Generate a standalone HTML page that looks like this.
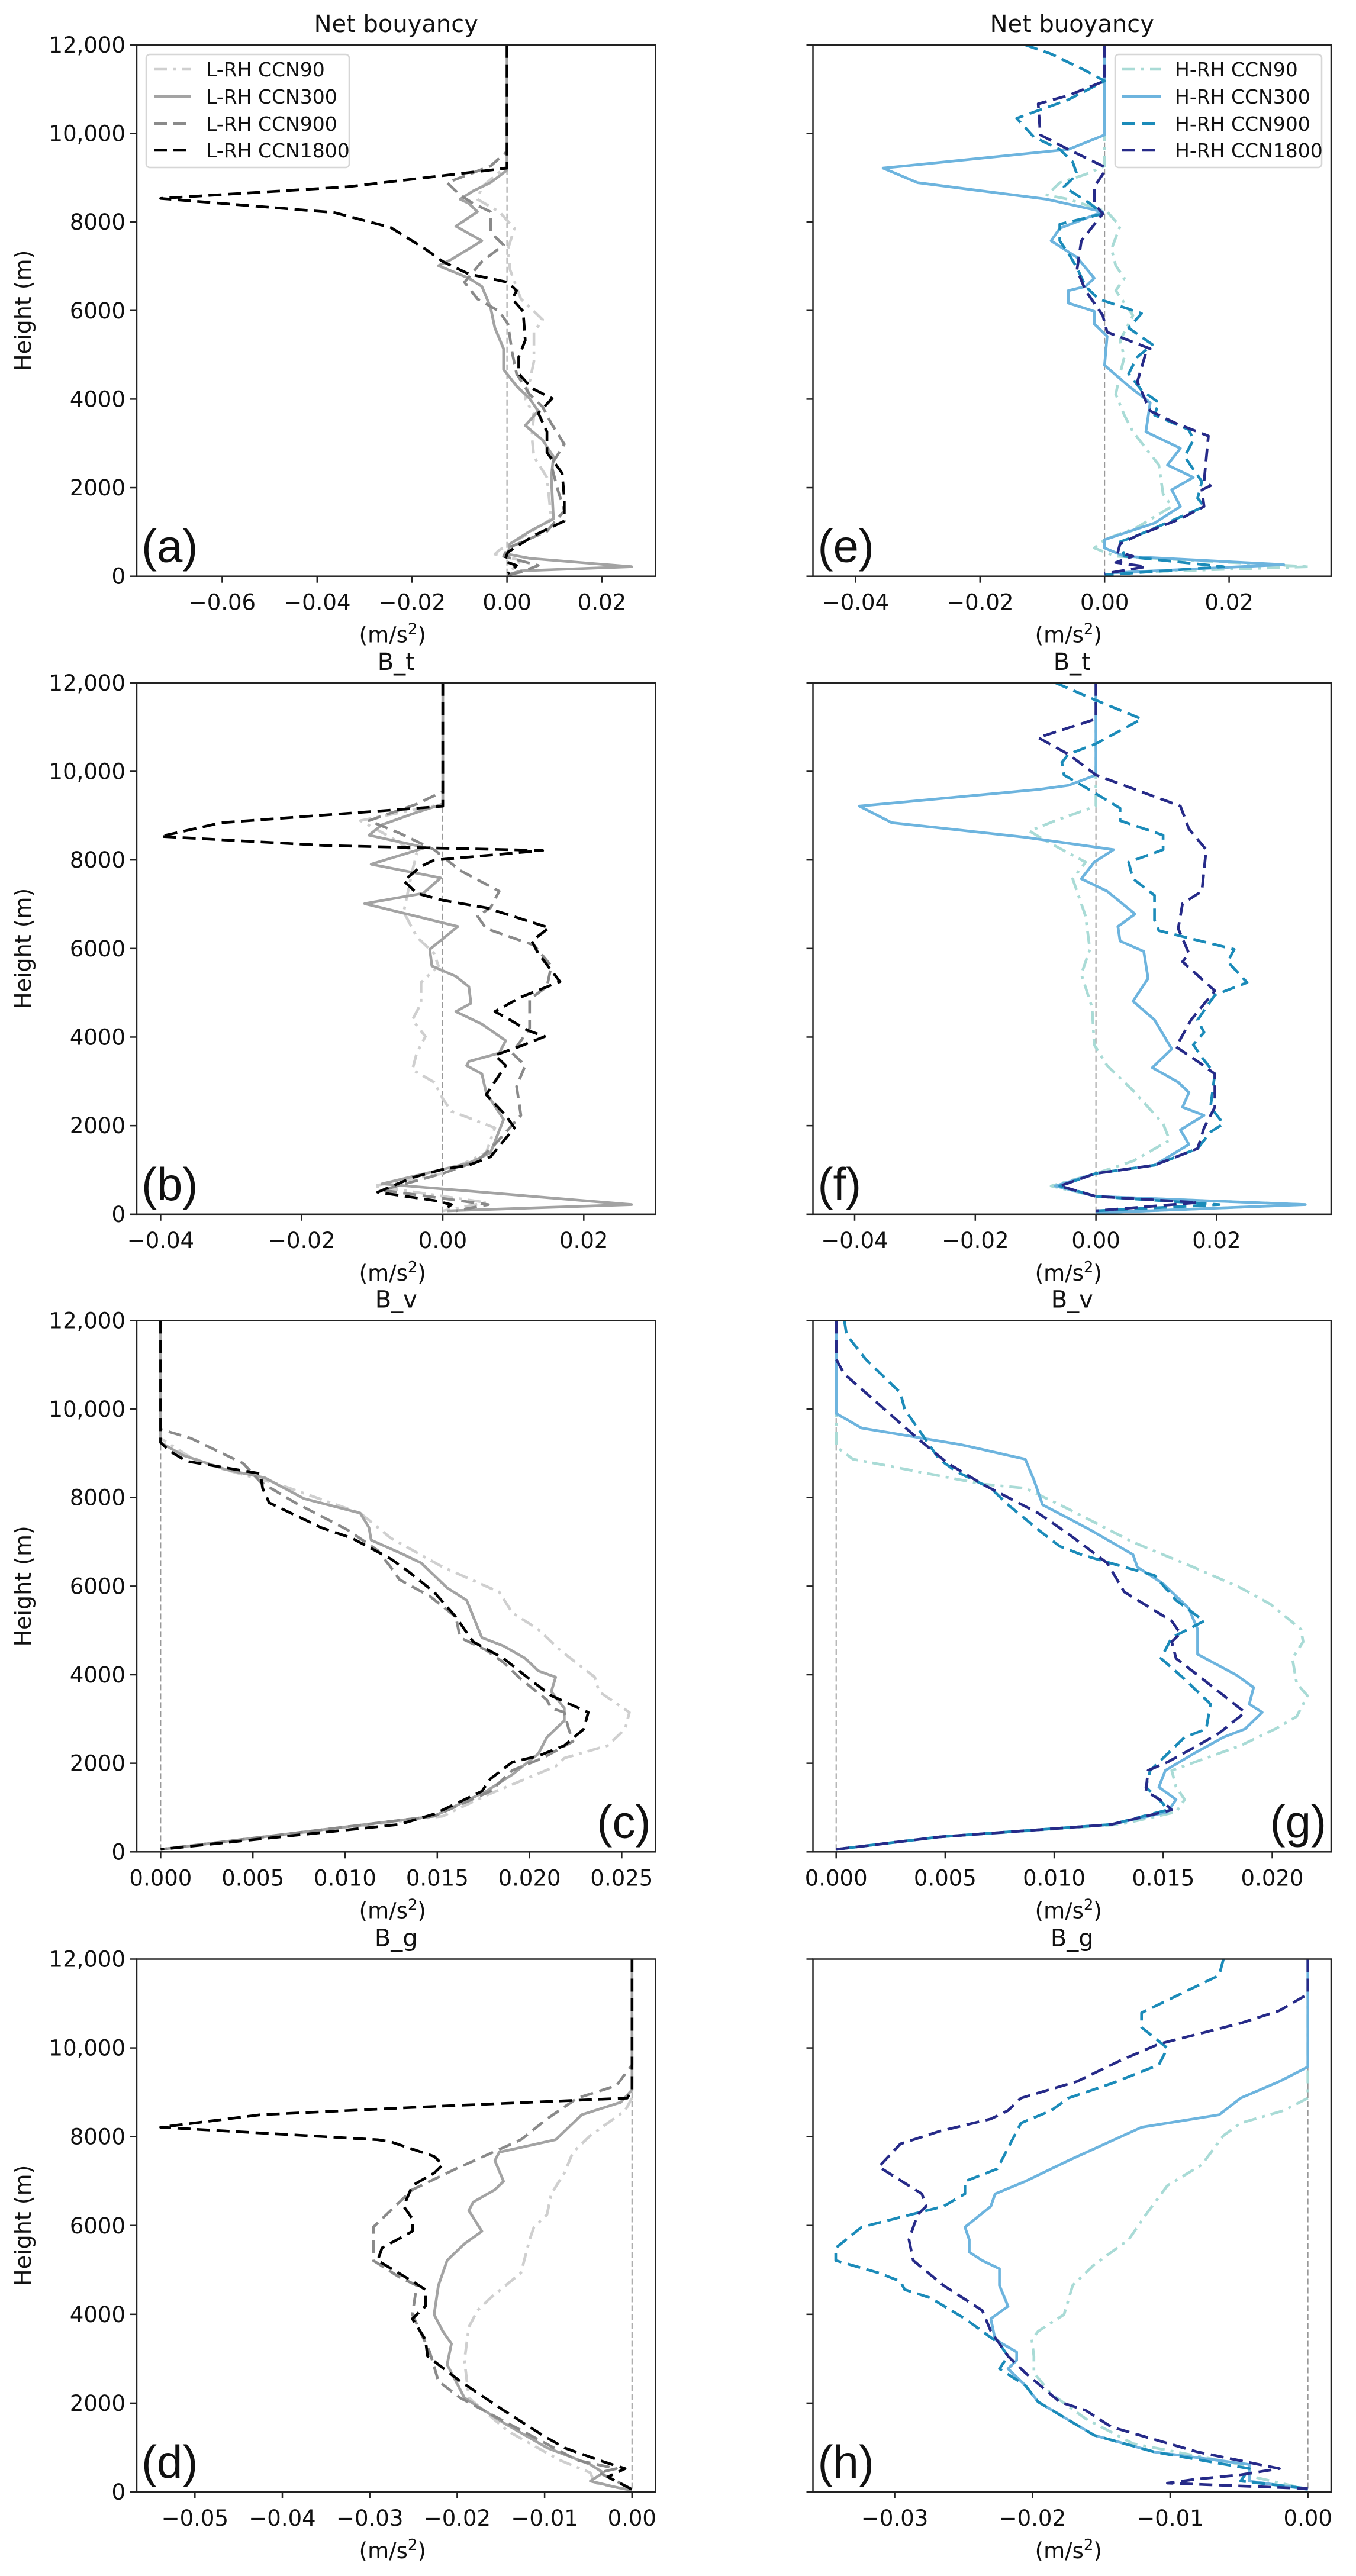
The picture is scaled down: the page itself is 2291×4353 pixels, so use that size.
<!DOCTYPE html>
<html><head><meta charset="utf-8">
<style>
html,body{margin:0;padding:0;background:#fff;}
svg{display:block;font-family:"DejaVu Sans","Liberation Sans",sans-serif;}
</style></head>
<body>
<svg id="s" xmlns="http://www.w3.org/2000/svg" width="2291" height="4353" viewBox="0 0 2291 4353">
<rect width="2291" height="4353" fill="#fff"/>
</svg>
<script>
const NS="http://www.w3.org/2000/svg";
const svg=document.getElementById('s');
function el(t,a,txt){const e=document.createElementNS(NS,t);for(const k in a)e.setAttribute(k,a[k]);if(txt!==undefined)e.textContent=txt;svg.appendChild(e);return e;}
const L={l:231,r:1107.5}, R={l:1373.5,r:2249};
const rows=[[75.8,973.7],[1153.8,2051.8],[2231.4,3129.3],[3310.5,4211]];
const LC=['#cfcfcf','#a3a3a3','#8a8a8a','#000000'];
const HC=['#a9dbd6','#6db4de','#1b8bb9','#262a88'];
const STY=['22,10,5,10',null,'22,11','22,11'];
function zl(oy,sy){return {ox:0,oy:oy,sx:1.3635,sy:sy};}
function zr(oy,sy){return {ox:1150,oy:oy,sx:1.374,sy:sy};}
const panels=[
{col:L,row:0,tf:zl(0,1.4255),title:'Net bouyancy',lab:'(a)',labPos:'l',zero:856.6,per:160.4,ticks:[-0.06,-0.04,-0.02,0,0.02],step:0.02,dec:2,pal:LC,
 s:[
 [[1168,108],[1168,400],[1110,450],[1100,480],[1150,510],[1185,550],[1170,600],[1175,650],[1200,720],[1250,770],[1230,800],[1230,870],[1220,920],[1210,960],[1230,1000],[1225,1050],[1230,1100],[1260,1150],[1270,1250],[1210,1290],[1150,1325],[1140,1335],[1200,1350],[1168,1385]],
 [[1168,108],[1168,410],[1130,440],[1090,460],[1060,480],[1080,490],[1100,510],[1050,545],[1110,580],[1040,625],[1010,640],[1080,670],[1110,690],[1130,740],[1140,790],[1160,840],[1160,890],[1190,930],[1220,960],[1240,990],[1210,1025],[1250,1060],[1275,1100],[1270,1150],[1275,1250],[1220,1280],[1175,1310],[1170,1335],[1220,1345],[1455,1365],[1200,1375],[1168,1385]],
 [[1168,108],[1168,365],[1130,400],[1030,440],[1060,470],[1090,490],[1130,510],[1130,560],[1160,590],[1110,630],[1070,680],[1100,720],[1150,750],[1170,780],[1180,850],[1190,900],[1220,950],[1250,980],[1270,1020],[1300,1070],[1270,1120],[1285,1180],[1300,1230],[1260,1280],[1170,1320],[1160,1340],[1240,1362],[1200,1378],[1168,1385]],
 [[1168,108],[1168,405],[800,450],[370,478],[770,512],[900,548],[980,600],[1020,630],[1080,660],[1170,680],[1190,700],[1180,720],[1205,750],[1210,820],[1195,860],[1195,900],[1225,935],[1272,960],[1240,995],[1260,1040],[1260,1090],[1295,1140],[1300,1200],[1300,1255],[1230,1290],[1170,1330],[1162,1352],[1190,1362],[1170,1382]]
 ]},
{col:L,row:1,tf:zl(1050,1.4255),title:'B_t',lab:'(b)',labPos:'l',zero:748,per:238.3,ticks:[-0.04,-0.02,0,0.02],step:0.02,dec:2,pal:LC,
 s:[
 [[1020,148],[1020,440],[830,480],[900,520],[960,560],[950,600],[930,700],[960,760],[1000,800],[1010,830],[970,870],[970,920],[950,960],[980,1000],[960,1040],[950,1080],[1000,1110],[1020,1150],[1040,1180],[1140,1220],[1120,1280],[1020,1330],[860,1360],[1120,1400],[1020,1420]],
 [[1020,148],[1020,440],[960,460],[880,490],[850,515],[980,545],[855,585],[1015,618],[975,655],[840,680],[1055,735],[990,790],[995,830],[1050,855],[1080,880],[1085,920],[1050,940],[1110,970],[1165,1010],[1150,1040],[1080,1060],[1075,1070],[1110,1090],[1120,1135],[1160,1200],[1130,1280],[1080,1305],[1020,1320],[880,1355],[1455,1405],[1030,1420]],
 [[1020,148],[1020,410],[960,440],[850,480],[920,510],[1000,550],[1060,600],[1150,650],[1130,690],[1100,710],[1120,740],[1230,780],[1270,830],[1260,880],[1220,910],[1220,980],[1180,1040],[1210,1070],[1190,1120],[1200,1190],[1140,1260],[1100,1300],[1020,1330],[880,1370],[1125,1405],[1050,1420]],
 [[1020,148],[1020,445],[960,450],[510,485],[370,518],[750,540],[1250,552],[1000,575],[970,590],[930,625],[960,655],[1020,672],[1120,690],[1265,738],[1225,770],[1240,800],[1290,868],[1200,905],[1140,940],[1175,960],[1215,985],[1255,1000],[1195,1025],[1140,1045],[1165,1070],[1120,1140],[1165,1190],[1185,1220],[1130,1290],[1080,1310],[1020,1320],[950,1340],[870,1375],[1000,1395],[1040,1405],[1020,1420]]
 ]},
{col:L,row:2,tf:zl(2150,1.4255),title:'B_v',lab:'(c)',labPos:'r',zero:271.4,per:155.8,ticks:[0,0.005,0.01,0.015,0.02,0.025],step:0.005,dec:3,pal:LC,
 s:[
 [[370,116],[370,400],[430,440],[500,470],[640,510],[830,580],[900,640],[1020,710],[1150,770],[1180,820],[1240,860],[1290,910],[1370,975],[1380,1010],[1450,1060],[1440,1100],[1400,1140],[1300,1170],[1280,1190],[1120,1260],[1020,1310],[370,1390]],
 [[370,116],[370,410],[420,440],[520,475],[610,495],[700,545],[830,580],[850,615],[855,645],[930,680],[970,700],[1030,760],[1075,790],[1110,880],[1160,900],[1210,930],[1240,960],[1280,975],[1270,1010],[1300,1050],[1300,1080],[1260,1120],[1240,1160],[1180,1210],[1120,1250],[1000,1310],[370,1390]],
 [[370,116],[370,378],[440,400],[560,460],[600,505],[680,555],[800,620],[870,670],[900,710],[920,740],[990,780],[1050,830],[1060,880],[1120,910],[1160,940],[1200,980],[1260,1030],[1270,1050],[1300,1060],[1310,1100],[1320,1130],[1250,1170],[1180,1200],[1130,1250],[1000,1310],[370,1390]],
 [[370,116],[370,410],[390,430],[430,455],[600,485],[605,520],[620,555],[680,585],[740,615],[810,640],[900,690],[940,720],[1000,770],[1050,830],[1090,890],[1160,930],[1220,980],[1270,1020],[1355,1060],[1345,1100],[1300,1140],[1240,1165],[1180,1180],[1130,1220],[1110,1250],[1000,1305],[920,1330],[370,1390]]
 ]},
{col:L,row:3,tf:zl(3250,1.4216),title:'B_g',lab:'(d)',labPos:'l',zero:1067.8,per:147.7,ticks:[-0.05,-0.04,-0.03,-0.02,-0.01,0],step:0.01,dec:2,pal:LC,
 s:[
 [[1456,86],[1456,420],[1440,450],[1360,510],[1320,550],[1300,600],[1270,650],[1260,700],[1230,730],[1220,760],[1200,840],[1130,900],[1100,930],[1080,970],[1070,1050],[1080,1140],[1170,1220],[1290,1290],[1360,1320],[1370,1345],[1456,1362]],
 [[1456,86],[1456,400],[1430,430],[1340,460],[1280,520],[1150,550],[1140,570],[1160,620],[1140,640],[1090,670],[1080,690],[1110,740],[1070,770],[1030,810],[1010,870],[1000,940],[1020,980],[1040,1010],[1030,1060],[1070,1140],[1160,1200],[1260,1260],[1360,1300],[1390,1320],[1360,1340],[1420,1355],[1456,1362]],
 [[1456,86],[1456,340],[1420,390],[1330,420],[1260,470],[1200,520],[1050,590],[950,640],[900,690],[860,730],[860,810],[920,850],[960,870],[950,940],[990,1030],[1010,1100],[1060,1140],[1150,1190],[1240,1240],[1330,1290],[1420,1310],[1380,1320],[1420,1340],[1456,1360]],
 [[1456,86],[1456,400],[1445,420],[1000,440],[600,460],[370,490],[870,520],[900,525],[1000,560],[1020,580],[1000,600],[950,630],[930,680],[950,710],[950,740],[880,780],[870,810],[950,860],[980,880],[980,920],[950,950],[980,1000],[985,1040],[1060,1100],[1160,1170],[1250,1230],[1300,1260],[1380,1290],[1440,1310],[1400,1330],[1456,1360]]
 ]},
{col:R,row:0,tf:zr(0,1.4255),title:'Net buoyancy',lab:'(e)',labPos:'l',zero:1866.2,per:210.4,ticks:[-0.04,-0.02,0,0.02],step:0.02,dec:2,pal:HC,
 s:[
 [[984,108],[984,400],[940,420],[880,440],[850,470],[900,480],[990,510],[1020,545],[1000,600],[1010,640],[1030,670],[1010,700],[1050,760],[1020,820],[1030,860],[1020,900],[1010,950],[1030,1000],[1050,1040],[1080,1080],[1110,1120],[1120,1190],[1140,1220],[1060,1270],[984,1300],[960,1320],[1010,1340],[1460,1365],[1000,1380]],
 [[984,108],[984,325],[900,360],[470,405],[550,440],[850,480],[980,510],[880,550],[860,580],[920,620],[960,670],[940,690],[900,700],[900,730],[960,750],[960,780],[990,810],[984,880],[1040,930],[1090,970],[1080,1040],[1160,1080],[1130,1120],[1190,1150],[1140,1180],[1160,1220],[1100,1260],[984,1300],[984,1320],[1030,1340],[1400,1360],[1000,1380]],
 [[800,108],[860,130],[940,170],[984,195],[900,240],[780,285],[820,330],[880,360],[910,390],[920,420],[890,450],[950,490],[980,515],[880,540],[880,580],[900,610],[920,645],[940,690],[970,720],[1070,755],[1040,790],[1095,830],[1060,860],[1040,900],[1070,940],[1110,970],[1100,1000],[1180,1035],[1190,1060],[1170,1100],[1210,1160],[1200,1200],[1215,1220],[1150,1250],[1060,1290],[1020,1305],[1030,1340],[1260,1365],[984,1385]],
 [[984,108],[984,195],[900,230],[830,250],[835,325],[900,360],[980,400],[985,412],[960,450],[960,490],[980,515],[930,580],[920,650],[940,700],[980,760],[990,800],[1090,840],[1080,850],[1060,920],[1090,990],[1150,1020],[1225,1050],[1215,1160],[1230,1170],[1210,1180],[1215,1220],[1160,1250],[1060,1290],[1020,1310],[1015,1330],[1050,1340],[1010,1355],[1080,1365],[984,1382]]
 ]},
{col:R,row:1,tf:zr(1050,1.4255),title:'B_t',lab:'(f)',labPos:'l',zero:1851.6,per:203.8,ticks:[-0.04,-0.02,0,0.02],step:0.02,dec:2,pal:HC,
 s:[
 [[964,148],[964,445],[870,480],[810,505],[850,530],[940,580],[910,620],[940,710],[950,790],[930,850],[955,930],[960,1020],[990,1070],[1050,1130],[1120,1210],[1135,1250],[1050,1300],[964,1330],[860,1360],[964,1385],[1450,1405],[964,1425]],
 [[964,148],[964,370],[900,395],[830,405],[415,445],[490,485],[800,520],[1005,550],[960,580],[930,620],[990,650],[1055,705],[1015,735],[1020,770],[1075,795],[1085,860],[1050,915],[1100,960],[1140,1030],[1095,1075],[1155,1110],[1180,1135],[1165,1170],[1215,1190],[1160,1225],[1180,1260],[1100,1310],[964,1330],[870,1360],[964,1385],[1450,1405],[964,1425]],
 [[870,148],[964,190],[1070,235],[964,295],[900,320],[885,340],[890,370],[940,400],[1020,450],[1020,480],[1120,515],[1120,550],[1040,580],[1050,620],[1100,660],[1100,720],[1110,745],[1285,790],[1270,820],[1315,870],[1240,900],[1200,960],[1215,990],[1190,1020],[1210,1050],[1240,1090],[1230,1170],[1260,1210],[1230,1230],[1200,1270],[1100,1310],[964,1330],[880,1360],[964,1385],[1250,1405],[964,1420]],
 [[964,148],[964,235],[830,280],[900,320],[964,370],[1160,445],[1180,500],[1220,550],[1210,650],[1165,680],[1155,740],[1180,800],[1165,820],[1240,890],[1185,960],[1150,1025],[1200,1060],[1240,1090],[1240,1170],[1215,1220],[1200,1270],[1100,1310],[964,1330],[880,1360],[964,1385],[1200,1400],[964,1420]]
 ]},
{col:R,row:2,tf:zr(2150,1.4255),title:'B_v',lab:'(g)',labPos:'r',zero:1412.7,per:184.2,ticks:[0,0.005,0.01,0.015,0.02],step:0.005,dec:3,pal:HC,
 s:[
 [[361,116],[361,420],[400,450],[550,480],[700,510],[800,520],[900,570],[1050,650],[1190,710],[1300,760],[1370,800],[1440,860],[1445,890],[1420,930],[1430,990],[1455,1020],[1430,1070],[1380,1100],[1300,1140],[1140,1200],[1150,1240],[1170,1270],[1150,1300],[1020,1330],[600,1360],[361,1390]],
 [[361,116],[361,340],[420,375],[650,415],[800,450],[820,500],[840,560],[950,620],[1050,680],[1060,710],[1120,750],[1180,810],[1200,860],[1200,920],[1290,970],[1330,1000],[1320,1040],[1350,1060],[1310,1100],[1260,1120],[1190,1160],[1125,1200],[1110,1240],[1150,1270],[1130,1300],[1000,1330],[600,1360],[361,1390]],
 [[380,116],[385,150],[430,210],[510,290],[520,330],[600,450],[640,480],[680,500],[720,520],[760,560],[830,620],[880,660],[930,680],[1030,710],[1100,730],[1150,790],[1215,840],[1140,880],[1115,930],[1170,980],[1230,1040],[1220,1100],[1170,1120],[1130,1160],[1090,1200],[1080,1240],[1120,1280],[1130,1295],[1000,1330],[600,1360],[361,1390]],
 [[361,116],[361,210],[380,245],[550,400],[620,460],[700,510],[830,580],[900,630],[990,700],[1030,770],[1140,840],[1160,870],[1140,890],[1150,930],[1200,970],[1310,1060],[1250,1110],[1200,1140],[1130,1180],[1085,1200],[1080,1250],[1120,1275],[1140,1295],[1000,1330],[600,1360],[361,1390]]
 ]},
{col:R,row:3,tf:zr(3250,1.4216),title:'B_g',lab:'(h)',labPos:'l',zero:2209.7,per:232.7,ticks:[-0.03,-0.02,-0.01,0],step:0.01,dec:2,pal:HC,
 s:[
 [[1456,86],[1456,420],[1400,450],[1300,480],[1260,510],[1210,580],[1130,630],[1080,700],[1040,760],[960,820],[910,870],[890,940],[830,980],[815,1000],[820,1040],[820,1080],[860,1130],[940,1190],[1050,1250],[1300,1300],[1330,1330],[1456,1360]],
 [[1456,86],[1456,345],[1390,380],[1300,420],[1250,460],[1070,490],[900,570],[800,620],[730,650],[720,680],[660,730],[670,760],[670,790],[700,810],[740,830],[740,870],[760,920],[720,950],[730,1000],[780,1030],[780,1050],[760,1070],[800,1110],[830,1150],[960,1230],[1100,1270],[1320,1300],[1320,1340],[1456,1360]],
 [[1260,86],[1250,125],[1070,215],[1070,250],[1130,300],[1110,340],[1000,385],[900,420],[860,450],[790,480],[735,590],[660,620],[660,650],[610,680],[420,730],[360,780],[360,810],[460,840],[510,860],[520,880],[580,900],[660,950],[700,980],[740,1010],[760,1040],[740,1070],[800,1110],[830,1150],[960,1230],[1100,1270],[1320,1310],[1300,1340],[1456,1358]],
 [[1456,86],[1456,170],[1390,210],[1300,240],[1110,290],[1020,330],[920,380],[790,420],[760,450],[720,470],[600,500],[510,530],[460,585],[560,650],[570,680],[550,700],[530,760],[540,810],[610,870],[700,930],[720,980],[740,1010],[760,1040],[800,1080],[880,1150],[940,1170],[1000,1210],[1200,1270],[1390,1310],[1300,1325],[1200,1335],[1130,1345],[1456,1358]]
 ]}
];
function fmt(v,dec){let s=Math.abs(v).toFixed(dec);return (v<-1e-9?'\u2212':'')+s;}
panels.forEach((p,i)=>{
 const x0=p.col.l,x1=p.col.r,y0=rows[p.row][0],y1=rows[p.row][1];
 const cid='c'+i;
 const cp=el('clipPath',{id:cid});
 const r=document.createElementNS(NS,'rect');r.setAttribute('x',x0);r.setAttribute('y',y0);r.setAttribute('width',x1-x0);r.setAttribute('height',y1-y0);cp.appendChild(r);
 el('line',{x1:p.zero,x2:p.zero,y1:y0,y2:y1,stroke:'#999',"stroke-width":2,"stroke-dasharray":'10,5'});
 p.s.forEach((pts,k)=>{
  const d=pts.map((q,j)=>(j?'L':'M')+(p.tf.ox+q[0]/p.tf.sx).toFixed(1)+' '+(p.tf.oy+q[1]/p.tf.sy).toFixed(1)).join(' ');
  const a={d:d,fill:'none',stroke:p.pal[k],"stroke-width":4.6,"stroke-linejoin":'round','clip-path':'url(#'+cid+')'};
  if(STY[k])a['stroke-dasharray']=STY[k];
  el('path',a);
 });
 el('rect',{x:x0,y:y0,width:x1-x0,height:y1-y0,fill:'none',stroke:'#222',"stroke-width":2.5});
 for(let h=0;h<=12000;h+=2000){
  const y=y1-(y1-y0)*h/12000;
  el('line',{x1:x0-11,x2:x0,y1:y,y2:y,stroke:'#222',"stroke-width":2.5});
  if(p.col===L){const t=h>=10000?(h/1000)+',000':''+h;
   el('text',{x:x0-19,y:y+13,"font-size":37,"text-anchor":'end',fill:'#111'},t);}
 }
 p.ticks.forEach(v=>{
  const x=p.zero+v/p.step*p.per;
  el('line',{x1:x,x2:x,y1:y1,y2:y1+11,stroke:'#222',"stroke-width":2.5});
  el('text',{x:x,y:y1+57,"font-size":37,"text-anchor":'middle',fill:'#111'},fmt(v,p.dec));
 });
 const cx=(x0+x1)/2;
 el('text',{x:cx,y:y0-22,"font-size":40,"text-anchor":'middle',fill:'#111'},p.title);
 const xl=el('text',{x:cx-6,y:y1+112,"font-size":37,"text-anchor":'middle',fill:'#111'},'(m/s');
 const sup=document.createElementNS(NS,'tspan');sup.setAttribute('dy','-14');sup.setAttribute('font-size','26');sup.textContent='2';xl.appendChild(sup);
 const cl=document.createElementNS(NS,'tspan');cl.setAttribute('dy','14');cl.textContent=')';xl.appendChild(cl);
 if(p.col===L){const my=(y0+y1)/2;el('text',{x:0,y:0,"font-size":38,"text-anchor":'middle',fill:'#111',transform:'translate(52,'+my+') rotate(-90)'},'Height (m)');}
 if(p.labPos==='l')el('text',{x:x0+8,y:y1-24,"font-size":78,fill:'#111',"font-family":'"Liberation Sans",sans-serif'},p.lab);
 else el('text',{x:x1-8,y:y1-24,"font-size":78,"text-anchor":'end',fill:'#111',"font-family":'"Liberation Sans",sans-serif'},p.lab);
});
function legend(bx,by,bw,bh,lx0,lx1,tx,pal,names){
 el('rect',{x:bx,y:by,width:bw,height:bh,rx:6,fill:'#fff',"fill-opacity":0.85,stroke:'#d6d6d6',"stroke-width":2.5});
 const ys=[117,163,209,254];
 names.forEach((n,k)=>{
  const a={x1:lx0,x2:lx1,y1:ys[k],y2:ys[k],stroke:pal[k],"stroke-width":4.6};
  if(STY[k])a['stroke-dasharray']=STY[k];
  el('line',a);
  el('text',{x:tx,y:ys[k]+12,"font-size":33,fill:'#111'},n);
 });
}
legend(247,92,343,191,260,323,348,LC,['L-RH CCN90','L-RH CCN300','L-RH CCN900','L-RH CCN1800']);
legend(1884,92,349,191,1896,1961,1985,HC,['H-RH CCN90','H-RH CCN300','H-RH CCN900','H-RH CCN1800']);
</script>
</body></html>
